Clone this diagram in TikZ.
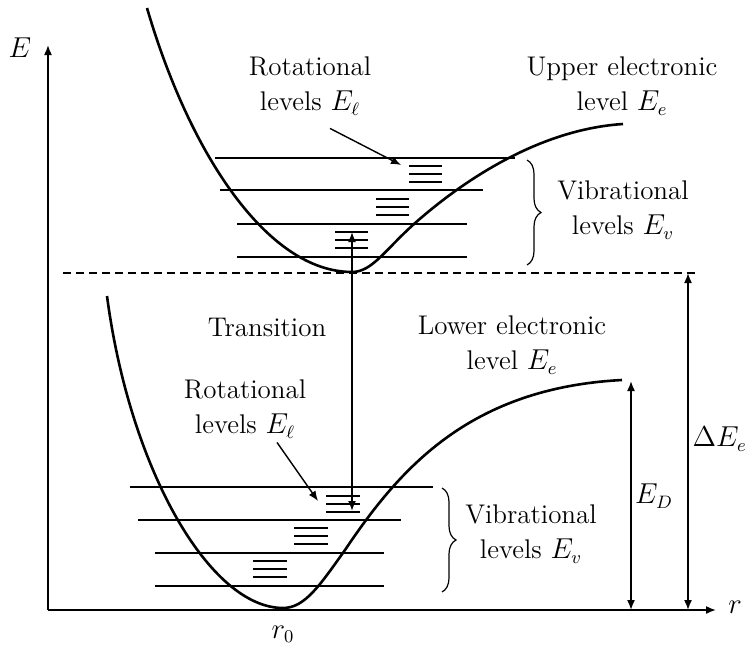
\documentclass[tikz,border=0pt]{standalone}
\usetikzlibrary{arrows.meta,decorations.pathreplacing,positioning}

\begin{document}
\begin{tikzpicture}[
    x=0.5pt, y=-0.5pt,
    >={Latex[length=5pt,width=4pt]},
    every node/.style={font=\fontsize{13.5}{17.5}\selectfont},
    textlabel/.style={align=center, inner sep=0pt},
    curve/.style={line width=1.3pt},
    level/.style={line width=0.8pt},
    axis/.style={->, line width=0.8pt},
    dim/.style={<->, line width=0.8pt},
    lead/.style={->, line width=0.7pt},
    levelbrace/.style={decorate, decoration={brace, amplitude=7pt}, line width=0.6pt}
]
\useasboundingbox (0,0) rectangle (748,648);

% axes
\coordinate (origin) at (48,610);
\coordinate (etop) at (48,45);
\coordinate (rend) at (716,610);
\draw[axis] (origin) -- (etop);
\draw[axis] (origin) -- (rend);
\node (elabel) at (20,48) {$E$};
\node (rlabel) at (735,607) {$r$};
\node (rzero) at (283,634) {$r_0$};

% upper electronic level
\foreach \y/\xa/\xb in {158/215/515, 190/220/483, 224/237/467, 257/237/467}
    \draw[level] (\xa,\y) -- (\xb,\y);
\foreach \x/\y in {409/166, 376/199, 335/232}
    \foreach \d in {0,8,16}
        \draw[level] (\x,\y+\d) -- ++(33,0);
\draw[curve] (147,8) .. controls (190,155) and (268,272) .. (352,272)
    .. controls (372,272) and (385,250) .. (414,224)
    .. controls (450,192) and (530,130) .. (623,124);

% lower electronic level
\foreach \y/\xa/\xb in {487/130/433, 520/138/401, 553/155/384, 586/155/384}
    \draw[level] (\xa,\y) -- (\xb,\y);
\foreach \x/\y in {326/496, 294/528, 253/561}
    \foreach \d in {0,8,16}
        \draw[level] (\x,\y+\d) -- ++(34,0);
\draw[curve] (107,296) .. controls (130,470) and (210,608) .. (283,608)
    .. controls (305,608) and (320,585) .. (345,550)
    .. controls (400,468) and (470,388) .. (622,380);

\draw[dashed, dash pattern=on 4pt off 2.5pt, line width=0.7pt] (63,273) -- (696,273);

% labels
\node[textlabel] (rotU) at (310,86) {Rotational\\levels $E_\ell$};
\node[textlabel] (upperE) at (622,86) {Upper electronic\\level $E_e$};
\node[textlabel] (vibU) at (623,210) {Vibrational\\levels $E_v$};
\node[textlabel] (transition) at (267,327) {Transition};
\node[textlabel] (lowerE) at (512,345) {Lower electronic\\level $E_e$};
\node[textlabel] (rotL) at (245,409) {Rotational\\levels $E_\ell$};
\node[textlabel] (vibL) at (531,534) {Vibrational\\levels $E_v$};
\node (ED) at (654,496) {$E_D$};
\node[anchor=east, inner sep=0pt] (dEe) at (747,439) {$\Delta E_e$};

% rotational pointers
\coordinate (rotUtip) at (401,165);
\coordinate (rotLtip) at (318,501);
\draw[lead] ([shift={(20,13)}]rotU.south) -- (rotUtip);
\draw[lead] ([shift={(32,4)}]rotL.south) -- (rotLtip);

% transition and energies
\coordinate (transtop) at (352,232);
\coordinate (transbot) at (352,511);
\draw[dim] (transbot) -- (transtop);
\coordinate (EDtop) at (631,381);
\coordinate (EDbot) at (631,610);
\draw[dim] (EDbot) -- (EDtop);
\coordinate (dEtop) at (688,273);
\coordinate (dEbot) at (688,610);
\draw[dim] (dEbot) -- (dEtop);

% braces
\draw[levelbrace] (527,160) -- (527,265);
\draw[levelbrace] (442,488) -- (442,592);

\end{tikzpicture}
\end{document}
